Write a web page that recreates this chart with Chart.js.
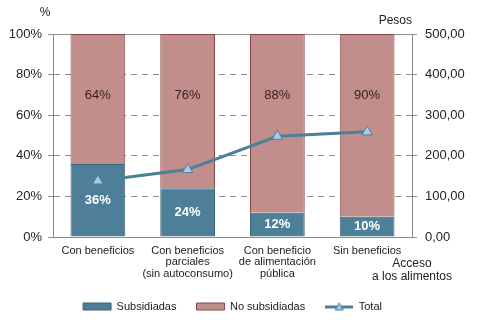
<!DOCTYPE html>
<html>
<head>
<meta charset="utf-8">
<script src="https://cdn.jsdelivr.net/npm/chart.js@4/dist/chart.umd.min.js"></script>
<style>
html,body{margin:0;padding:0;background:#fff;}
#c{display:block;}
</style>
</head>
<body>
<canvas id="c" width="480" height="322"></canvas>
<script>
const categories = [
  ["Con beneficios"],
  ["Con beneficios", "parciales", "(sin autoconsumo)"],
  ["Con beneficio", "de alimentación", "pública"],
  ["Sin beneficios"]
];
const subsidiadas = [36, 24, 12, 10];
const noSubsidiadas = [64, 76, 88, 90];
const total = [138, 166, 248, 259];
const pctTicks = [0, 20, 40, 60, 80, 100];
const pesosTicks = [0, 100, 200, 300, 400, 500];

const FONT = "'Liberation Sans', Arial, sans-serif";
const BLUE = '#4e7f98';
const PINK = '#c18e8c';
const LINE = '#4a8199';

// legend symbol for the line series
const totalSym = document.createElement('canvas');
totalSym.width = 28; totalSym.height = 10;
(function(){
  const g = totalSym.getContext('2d');
  g.strokeStyle = LINE; g.lineWidth = 3;
  g.beginPath(); g.moveTo(0, 5.5); g.lineTo(28, 5.5); g.stroke();
  g.fillStyle = '#a8cbe8'; g.strokeStyle = '#4e7fa0'; g.lineWidth = 1;
  g.beginPath(); g.moveTo(14, 1.5); g.lineTo(18, 8.5); g.lineTo(10, 8.5); g.closePath(); g.fill(); g.stroke();
})();

const labelsPlugin = {
  id: 'barLabels',
  afterDatasetsDraw(chart) {
    const ctx = chart.ctx;
    const yS = chart.scales.y;
    ctx.save();
    ctx.textAlign = 'center';
    ctx.textBaseline = 'middle';
    chart.getDatasetMeta(0).data.forEach((el, i) => {
      ctx.font = "bold 13px " + FONT;
      ctx.fillStyle = '#ffffff';
      ctx.fillText(subsidiadas[i] + '%', el.x, (el.y + el.base) / 2);
    });
    chart.getDatasetMeta(1).data.forEach((el, i) => {
      ctx.font = "13px " + FONT;
      ctx.fillStyle = '#3a2020';
      ctx.fillText(noSubsidiadas[i] + '%', el.x, yS.getPixelForValue(69.5));
    });
    ctx.restore();
  },
  afterDraw(chart) {
    const ctx = chart.ctx;
    const a = chart.chartArea;
    ctx.save();
    ctx.fillStyle = '#222';
    ctx.font = "12px " + FONT;
    ctx.textBaseline = 'middle';
    ctx.textAlign = 'center';
    ctx.fillText('%', 45, 13);
    ctx.textAlign = 'right';
    ctx.fillText('Pesos', a.right, 21);
    ctx.textAlign = 'center';
    ctx.fillText('Acceso', a.right, 264);
    ctx.fillText('a los alimentos', a.right, 277);
    ctx.restore();
  }
};

new Chart(document.getElementById('c'), {
  data: {
    labels: categories,
    datasets: [
      { type: 'bar', label: 'Subsidiadas', data: subsidiadas, backgroundColor: BLUE,
        borderColor: '#3d6478', borderWidth: 1, yAxisID: 'y', order: 2,
        barPercentage: 0.61, categoryPercentage: 1 },
      { type: 'bar', label: 'No subsidiadas', data: noSubsidiadas, backgroundColor: PINK,
        borderColor: '#864848', borderWidth: 1, yAxisID: 'y', order: 2,
        barPercentage: 0.61, categoryPercentage: 1 },
      { type: 'line', label: 'Total', data: total, yAxisID: 'y1', order: 0,
        borderColor: LINE, borderWidth: 3, pointStyle: 'triangle', pointRadius: 6,
        pointBackgroundColor: '#a8cbe8', pointBorderColor: '#4e7fa0', pointBorderWidth: 1,
        tension: 0, fill: false }
    ]
  },
  options: {
    responsive: false,
    animation: false,
    devicePixelRatio: 1,
    layout: { padding: { left: 0, right: 0, top: 34, bottom: 0 } },
    plugins: {
      tooltip: { enabled: false },
      legend: {
        position: 'bottom',
        fullSize: false,
        labels: {
          font: { family: FONT, size: 11 },
          color: '#222',
          boxWidth: 28, boxHeight: 7,
          usePointStyle: true, pointStyleWidth: 28,
          padding: 20,
          sort: (a, b) => a.datasetIndex - b.datasetIndex,
          generateLabels(chart) {
            const items = Chart.defaults.plugins.legend.labels.generateLabels(chart);
            items.forEach(it => {
              if (it.datasetIndex === 2) {
                it.pointStyle = totalSym;
              } else {
                it.pointStyle = 'rect';
                it.lineWidth = 1;
              }
            });
            return items;
          }
        }
      }
    },
    scales: {
      x: {
        stacked: true,
        grid: { display: false, drawTicks: false },
        border: { display: true, color: '#8a8a8a' },
        ticks: { font: { family: FONT, size: 11, lineHeight: 1.05 }, color: '#222', padding: 8, maxRotation: 0, autoSkip: false },
        afterFit(s) { s.height = 44; }
      },
      y: {
        stacked: true,
        position: 'left',
        min: 0, max: 100,
        afterBuildTicks(s) { s.ticks = pctTicks.map(v => ({ value: v })); },
        ticks: { font: { family: FONT, size: 13 }, color: '#222', padding: 6, callback: v => v + '%' },
        grid: { color: '#8f8f8f', lineWidth: 1, tickLength: 5, tickColor: '#8f8f8f', tickBorderDash: [] },
        border: { color: '#8a8a8a', dash: ctx => (ctx.tick && (ctx.tick.value === 100 || ctx.tick.value === 0)) ? [] : [6, 5] },
        afterFit(s) { s.width = 53; }
      },
      y1: {
        position: 'right',
        min: 0, max: 500,
        afterBuildTicks(s) { s.ticks = pesosTicks.map(v => ({ value: v })); },
        ticks: { font: { family: FONT, size: 13 }, color: '#222', padding: 8,
          callback: v => v.toFixed(2).replace('.', ',') },
        grid: { drawOnChartArea: false, tickLength: 5, color: '#8f8f8f' },
        border: { color: '#8a8a8a' },
        afterFit(s) { s.width = 68; }
      }
    }
  },
  plugins: [labelsPlugin]
});
</script>
</body>
</html>
